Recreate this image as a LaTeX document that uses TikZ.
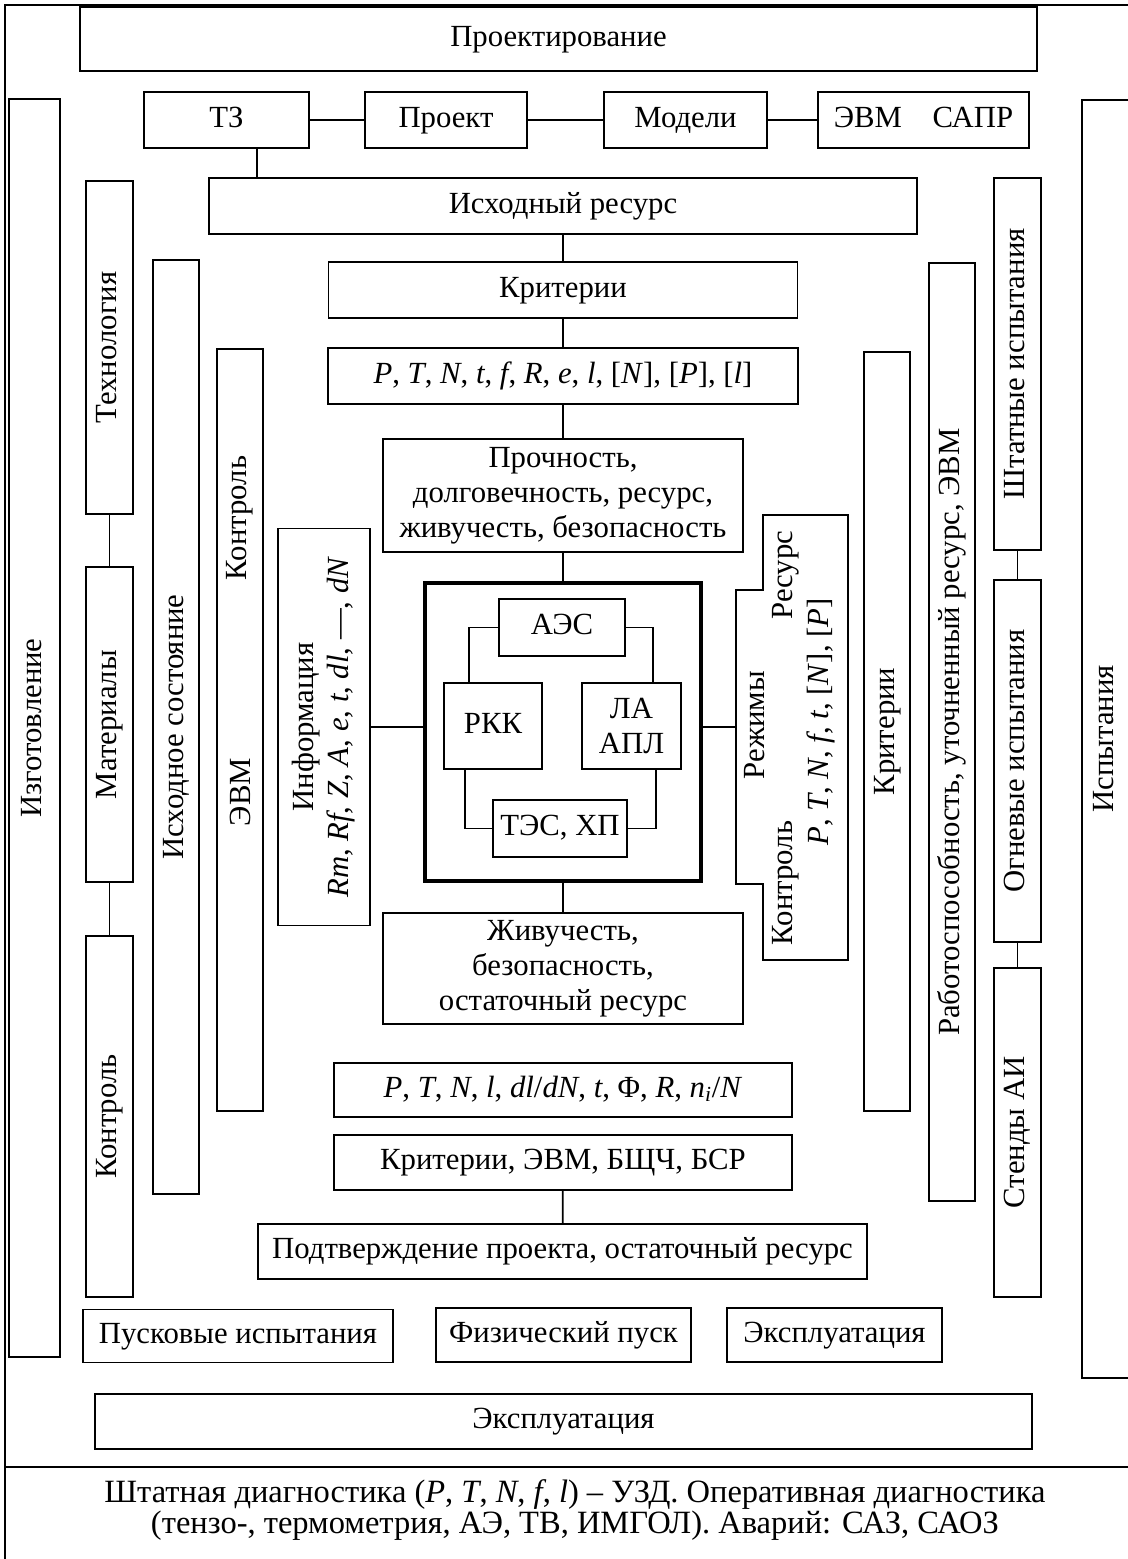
\documentclass[tikz,border=0pt]{standalone}
\usepackage{fontspec}
\setmainfont{Liberation Serif}
\usetikzlibrary{calc}

\begin{document}
\begin{tikzpicture}[x=0.02cm, y=-0.02cm, font=\fontsize{17.5}{20}\selectfont]
\useasboundingbox (0,0) rectangle (1128,1559);

% outer frame
\draw[line width=1pt] (1140,5) -- (5,5) -- (5,1570);
\draw[line width=1pt] (5,1467) -- (1140,1467);

\begin{scope}[every node/.style={shape=rectangle,draw=black,line width=1pt,fill=white,align=center,inner sep=1pt,text height=12pt,text depth=4pt}]
    \node (proj) at (558.5,39) [minimum width=19.14cm, minimum height=1.28cm] {Проектирование};

    \node (tz) at (226.5,120) [minimum width=3.30cm, minimum height=1.12cm] {ТЗ};
    \node (proekt) at (446,120) [minimum width=3.24cm, minimum height=1.12cm] {Проект};
    \node (modeli) at (685.5,120) [minimum width=3.26cm, minimum height=1.12cm] {Модели};
    \node (evmsapr) at (923.5,120) [minimum width=4.22cm, minimum height=1.12cm] {ЭВМ\quad САПР};

    \node (isres) at (563,206) [minimum width=14.16cm, minimum height=1.12cm] {Исходный ресурс};
    \node (krit) at (563,290) [minimum width=9.38cm, minimum height=1.12cm] {Критерии};
    \node (ptn1) at (563,376) [minimum width=9.40cm, minimum height=1.12cm]
        {\textit{P}, \textit{T}, \textit{N}, \textit{t}, \textit{f}, \textit{R}, \textit{e}, \textit{l}, [\textit{N}], [\textit{P}], [\textit{l}]};
    \node (proch) at (563,495.5) [minimum width=7.20cm, minimum height=2.26cm, text height=, text depth=]
        {Прочность,\\долговечность, ресурс,\\живучесть, безопасность};

    \node (core) at (563,732) [minimum width=5.52cm, minimum height=5.96cm, line width=2.2pt] {};
    \node (aes) at (562,627.5) [minimum width=2.52cm, minimum height=1.14cm] {АЭС};
    \node (rkk) at (493,726) [minimum width=1.96cm, minimum height=1.72cm] {РКК};
    \node (la) at (631.5,726) [minimum width=1.98cm, minimum height=1.72cm, text height=, text depth=] {ЛА\\АПЛ};
    \node (tes) at (560,828.5) [minimum width=2.68cm, minimum height=1.14cm] {ТЭС, ХП};

    \node (zhiv) at (563,968.5) [minimum width=7.20cm, minimum height=2.22cm, text height=, text depth=]
        {Живучесть,\\безопасность,\\остаточный ресурс};
    \node (ptn2) at (563,1090) [minimum width=9.16cm, minimum height=1.08cm]
        {\textit{P}, \textit{T}, \textit{N}, \textit{l}, \textit{dl}/\textit{dN}, \textit{t}, Φ, \textit{R}, \textit{n}\textsubscript{\textit{i}}/\textit{N}};
    \node (krit2) at (563,1162.5) [minimum width=9.16cm, minimum height=1.10cm] {Критерии, ЭВМ, БЩЧ, БСР};
    \node (podtv) at (562.5,1251.5) [minimum width=12.18cm, minimum height=1.10cm] {Подтверждение проекта, остаточный ресурс};

    \node (pusk) at (238,1336) [minimum width=6.20cm, minimum height=1.06cm] {Пусковые испытания};
    \node (fizpusk) at (563.5,1335) [minimum width=5.10cm, minimum height=1.08cm] {Физический пуск};
    \node (ekspl1) at (834.5,1335) [minimum width=4.30cm, minimum height=1.08cm] {Эксплуатация};

    \node (ekspl2) at (563.5,1421.5) [minimum width=18.74cm, minimum height=1.10cm] {Эксплуатация};
\end{scope}

\begin{scope}[every node/.style={shape=rectangle,draw=black,line width=1pt,fill=white,align=center,inner sep=1pt,rotate=90,text height=12pt,text depth=4pt}]
    \node (izg) at (34.5,728) [minimum width=25.16cm, minimum height=1.02cm] {Изготовление};
    \node (tech) at (109.5,347.5) [minimum width=6.66cm, minimum height=0.94cm] {Технология};
    \node (mat) at (109.5,724.5) [minimum width=6.30cm, minimum height=0.94cm] {Материалы};
    \node (kontr1) at (109.5,1116.5) [minimum width=7.22cm, minimum height=0.94cm] {Контроль};
    \node (isxsost) at (176,727) [minimum width=18.68cm, minimum height=0.92cm] {Исходное состояние};
    \node (evm) at (240,730) [minimum width=15.24cm, minimum height=0.92cm] {};
    \node (info) at (324,727) [minimum width=7.94cm, minimum height=1.84cm, text height=, text depth=]
        {Информация\\\textit{Rm}, \textit{Rf}, \textit{Z}, \textit{A}, \textit{e}, \textit{t}, \textit{dl}, ---, \textit{dN}};

    \node (kritv) at (887,731.5) [minimum width=15.18cm, minimum height=0.92cm] {Критерии};
    \node (rabot) at (952,732) [minimum width=18.76cm, minimum height=0.92cm] {Работоспособность, уточненный ресурс, ЭВМ};
    \node (shtat) at (1017.5,364) [minimum width=7.44cm, minimum height=0.94cm] {Штатные испытания};
    \node (ogn) at (1017.5,761) [minimum width=7.24cm, minimum height=0.94cm] {Огневые испытания};
    \node (stend) at (1017.5,1132.5) [minimum width=6.58cm, minimum height=0.94cm] {Стенды АИ};
    \node (ispyt) at (1106,739) [minimum width=25.56cm, minimum height=0.96cm] {Испытания};
\end{scope}

% modes block
\draw[line width=1pt] (763,515) -- (848,515) -- (848,960) -- (763,960) -- (763,884)
    -- (736,884) -- (736,590) -- (763,590) -- cycle;
\coordinate (rezhin) at (736,727);

\begin{scope}[every node/.style={rotate=90,inner sep=0pt}]
    \node (evmt) at (240,792) {ЭВМ};
    \node (kontrt) at (240,518) {Контроль};
    \node (rezht) at (755,725) {Режимы};
    \node (kontr2) at (786,883) {Контроль};
    \node (resurs) at (786,575) {Ресурс};
    \node (ptn3) at (821,722) {\textit{P}, \textit{T}, \textit{N}, \textit{f}, \textit{t}, [\textit{N}], [\textit{P}]};
\end{scope}

\node (diag) at (575,1510) [align=center, font=\fontsize{18.5}{17.5}\selectfont]
    {Штатная диагностика (\textit{P}, \textit{T}, \textit{N}, \textit{f}, \textit{l}) -- УЗД. Оперативная диагностика\\(тензо-, термометрия, АЭ, ТВ, ИМГОЛ). Аварий: САЗ, САОЗ};

\coordinate (tzout) at ($(tz.south)+(30.5,0)$);

\begin{scope}[every edge/.style={draw=black,line width=1pt}]
    \path (tz) edge (proekt);
    \path (proekt) edge (modeli);
    \path (modeli) edge (evmsapr);
    \path (tzout) edge (tzout |- isres.north);

    \path (isres) edge (krit);
    \path (krit) edge (ptn1);
    \path (ptn1) edge (proch);
    \path (proch) edge (core);
    \path (core) edge (zhiv);
    \path (krit2) edge (podtv);

    \path (tech) edge (mat);
    \path (mat) edge (kontr1);
    \path (shtat) edge (ogn);
    \path (ogn) edge (stend);

    \path (info) edge (info -| core.west);
    \path (core.east |- rezhin) edge (rezhin);
\end{scope}

% links inside the core
\draw[line width=1pt] (aes.west) -| ($(rkk.north west)+(26,0)$);
\draw[line width=1pt] (aes.east) -| ($(la.north east)+(-29,0)$);
\draw[line width=1pt] ($(rkk.south west)+(22,0)$) |- (tes.west);
\draw[line width=1pt] ($(la.south east)+(-26,0)$) |- (tes.east);
\end{tikzpicture}
\end{document}
